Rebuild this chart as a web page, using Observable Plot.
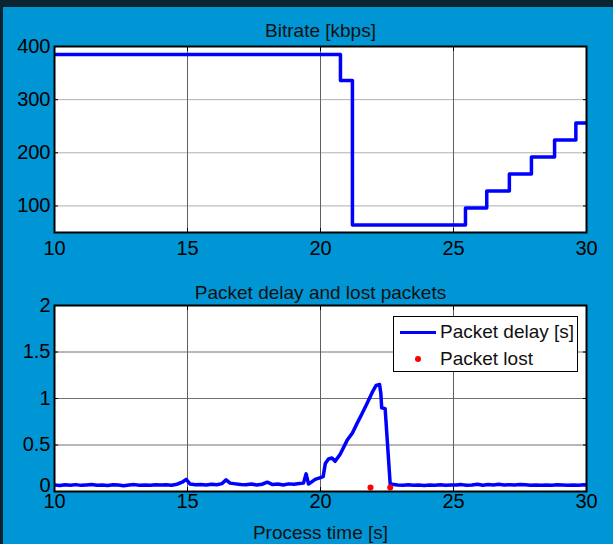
<!DOCTYPE html>
<html>
<head>
<meta charset="utf-8">
<script src="https://cdn.jsdelivr.net/npm/d3@7"></script>
<script src="https://cdn.jsdelivr.net/npm/@observablehq/plot@0.6"></script>
<style>
  html, body { margin: 0; padding: 0; }
  body { width: 613px; height: 544px; background: #0b2530; position: relative; overflow: hidden;
         font-family: "Liberation Sans", Arial, sans-serif; }
  #panel { position: absolute; left: 3px; top: 7px; width: 610px; height: 537px; background: #0095d4; }
  .chart { position: absolute; left: 0; }
  #legend { position: absolute; left: 393px; top: 316px; width: 183px; height: 54px;
            background: white; border: 1.5px solid black; font-size: 19px; color: #111; }
  #legend .row { position: absolute; left: 0; height: 22px; line-height: 22px; white-space: nowrap; }
  #legend .sw-line { position: absolute; left: 6px; top: 10px; width: 36px; height: 3px; background: #0000ff; }
  #legend .sw-dot { position: absolute; left: 21px; top: 8px; width: 6px; height: 6px; border-radius: 50%; background: #ff0000; }
  #legend .lbl { position: absolute; left: 46px; top: 0; }
</style>
</head>
<body>
<div id="panel"></div>
<div id="topChart" class="chart" style="top:0"></div>
<div id="bottomChart" class="chart" style="top:260px"></div>
<div id="legend">
  <div class="row" style="top:4px"><span class="sw-line"></span><span class="lbl">Packet delay [s]</span></div>
  <div class="row" style="top:31px"><span class="sw-dot"></span><span class="lbl">Packet lost</span></div>
</div>
<script>
// ---- data ----
const xTicks = [10, 15, 20, 25, 30];
const bitrateTicks = [100, 200, 300, 400];
const delayTicks = [0, 0.5, 1, 1.5, 2];

const bitrateTime = [10, 20.75, 21.2, 25.45, 26.25, 27.1, 27.93, 28.8, 29.6, 30];
const bitrateKbps = [385, 336, 64, 96, 128, 160, 192, 224, 256, 256];

const delayTime = [
  10.0, 10.2, 10.4, 10.6, 10.8, 11.0, 11.2, 11.4, 11.6, 11.8,
  12.0, 12.2, 12.4, 12.6, 12.8, 13.0, 13.2, 13.4, 13.6, 13.8,
  14.0, 14.2, 14.4, 14.6, 14.8, 14.95, 15.1, 15.3, 15.5, 15.7,
  15.9, 16.1, 16.3, 16.45, 16.6, 16.8, 17.0, 17.2, 17.4, 17.6,
  17.8, 18.0, 18.2, 18.4, 18.6, 18.8, 19.0, 19.2, 19.36, 19.46,
  19.55, 19.8, 20.0, 20.1, 20.18, 20.3, 20.43, 20.55, 20.74, 21.0,
  21.2, 21.37, 21.55, 21.74, 21.97, 22.09, 22.22, 22.27, 22.3, 22.43,
  22.62, 22.75, 22.9, 23.1, 23.3, 23.5, 23.7, 23.9, 24.1, 24.3,
  24.5, 24.7, 24.9, 25.1, 25.3, 25.5, 25.7, 25.9, 26.1, 26.3,
  26.5, 26.7, 26.9, 27.1, 27.3, 27.5, 27.7, 27.9, 28.1, 28.3,
  28.5, 28.7, 28.9, 29.1, 29.3, 29.5, 29.7, 29.9, 30.0
];
const delaySec = [
  0.070, 0.065, 0.072, 0.068, 0.074, 0.066, 0.071, 0.075, 0.067, 0.070,
  0.064, 0.072, 0.069, 0.062, 0.070, 0.074, 0.068, 0.071, 0.066, 0.073,
  0.069, 0.072, 0.067, 0.078, 0.100, 0.130, 0.080, 0.072, 0.075, 0.069,
  0.078, 0.072, 0.085, 0.125, 0.090, 0.082, 0.075, 0.072, 0.080, 0.070,
  0.078, 0.100, 0.075, 0.080, 0.070, 0.082, 0.078, 0.085, 0.090, 0.190,
  0.080, 0.130, 0.150, 0.160, 0.300, 0.350, 0.360, 0.325, 0.400, 0.550,
  0.630, 0.730, 0.830, 0.940, 1.080, 1.140, 1.150, 1.050, 0.900, 0.890,
  0.080, 0.075, 0.070, 0.068, 0.072, 0.066, 0.070, 0.065, 0.071, 0.068,
  0.073, 0.066, 0.070, 0.069, 0.074, 0.067, 0.071, 0.078, 0.068, 0.075,
  0.070, 0.077, 0.069, 0.073, 0.070, 0.076, 0.072, 0.068, 0.071, 0.066,
  0.070, 0.068, 0.072, 0.069, 0.066, 0.071, 0.068, 0.072, 0.070
];

const lostTime = [21.88, 22.62];
const lostDelay = [0.043, 0.043];

const titles = {top: "Bitrate [kbps]", bottom: "Packet delay and lost packets", xlabel: "Process time [s]"};

// ---- build tables ----
const bitrate = bitrateTime.map((t, i) => ({t, v: bitrateKbps[i]}));
const delay = delayTime.map((t, i) => ({t, v: delaySec[i]}));
const lost = lostTime.map((t, i) => ({t, v: lostDelay[i]}));

const FONT = '"Liberation Sans", Arial, sans-serif';
const chartStyle = {background: "transparent", fontFamily: FONT, fontSize: "20px", color: "black", overflow: "visible"};
const fmt = d => String(d);

function axes(yTicks, xPad, hGrid, yLabelGroups) {
  return [
    Plot.frame({fill: "white"}),
    Plot.gridY(yTicks, {stroke: hGrid, strokeOpacity: 1, strokeWidth: 1}),
    Plot.gridX(xTicks, {stroke: "#606060", strokeOpacity: 1, strokeWidth: 1}),
    Plot.axisX(xTicks, {anchor: "bottom", tickSize: 0, tickPadding: xPad, fontSize: 20, tickFormat: fmt, label: null}),
    ...yLabelGroups.map(([ticks, dy]) =>
      Plot.axisY(ticks, {anchor: "left", tickSize: 0, tickPadding: 4, fontSize: 20, dy, tickFormat: fmt, label: null})),
    Plot.axisX(xTicks, {anchor: "bottom", tickSize: -4, text: null, label: null, stroke: "black"}),
    Plot.axisX(xTicks, {anchor: "top", tickSize: -4, text: null, label: null, stroke: "black"}),
    Plot.axisY(yTicks, {anchor: "left", tickSize: -4, text: null, label: null, stroke: "black"}),
    Plot.axisY(yTicks, {anchor: "right", tickSize: -4, text: null, label: null, stroke: "black"})
  ];
}

const topPlot = Plot.plot({
  width: 613, height: 260,
  marginLeft: 54, marginRight: 27, marginTop: 46, marginBottom: 28,
  style: chartStyle,
  x: {domain: [10, 30]},
  y: {domain: [50, 400]},
  marks: [
    ...axes(bitrateTicks, 8, "#b0b0b0", [[bitrateTicks, 0]]),
    Plot.line(bitrate, {x: "t", y: "v", curve: "step-after", stroke: "#0000ff", strokeWidth: 3.5, clip: true}),
    Plot.frame({stroke: "black", strokeWidth: 2}),
    Plot.text([titles.top], {text: d => d, frameAnchor: "top", lineAnchor: "middle", dy: -16, fontSize: 19, fill: "#111"})
  ]
});
document.getElementById("topChart").appendChild(topPlot);

const bottomPlot = Plot.plot({
  width: 613, height: 284,
  marginLeft: 54, marginRight: 27, marginTop: 45, marginBottom: 53,
  style: chartStyle,
  x: {domain: [10, 30]},
  y: {domain: [0, 2]},
  marks: [
    ...axes(delayTicks, 2, "#707070", [[delayTicks.slice(1), 0], [delayTicks.slice(0, 1), -6]]),
    Plot.line(delay, {x: "t", y: "v", stroke: "#0000ff", strokeWidth: 3.5, strokeLinejoin: "round", clip: true}),
    Plot.dot(lost, {x: "t", y: "v", r: 3, fill: "#ff0000", stroke: "none"}),
    Plot.frame({stroke: "black", strokeWidth: 2}),
    Plot.text([titles.bottom], {text: d => d, frameAnchor: "top", lineAnchor: "middle", dy: -13, fontSize: 19, fill: "#111"}),
    Plot.text([titles.xlabel], {text: d => d, frameAnchor: "bottom", lineAnchor: "middle", dy: 41, fontSize: 19, fill: "#111"})
  ]
});
document.getElementById("bottomChart").appendChild(bottomPlot);
</script>
</body>
</html>
